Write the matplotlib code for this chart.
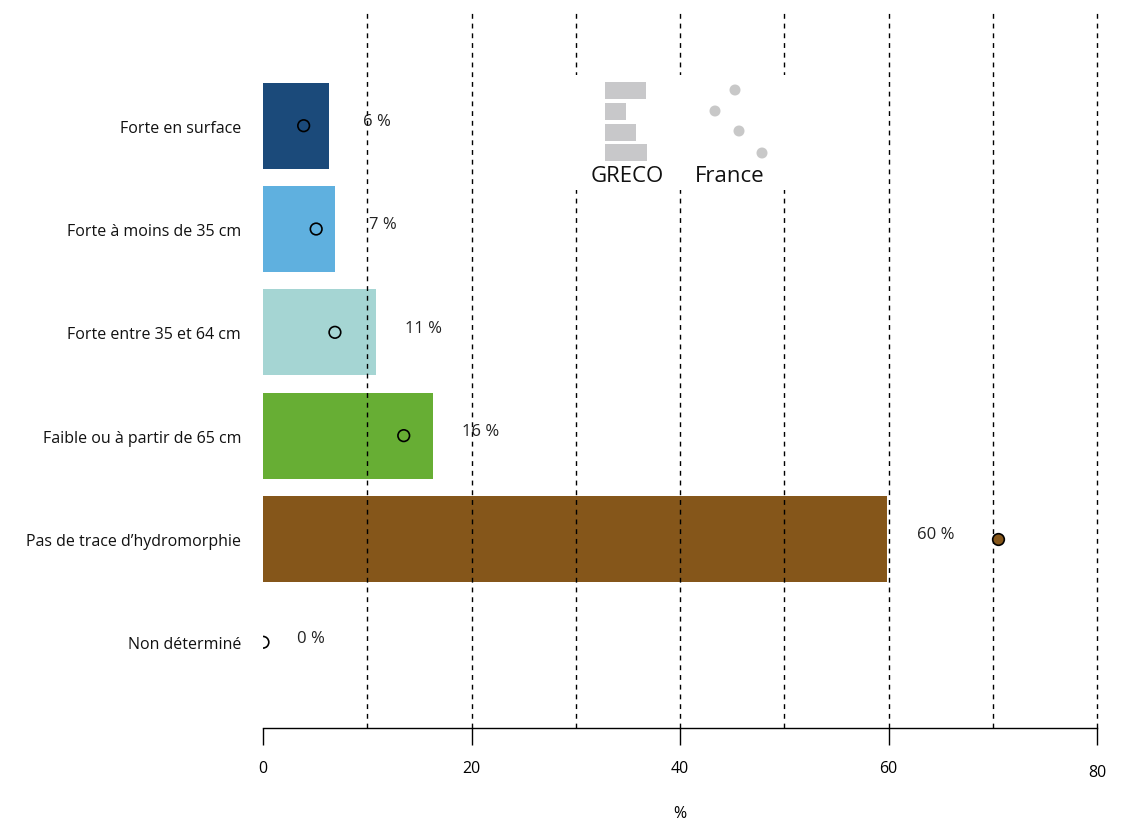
import matplotlib
matplotlib.use("Agg")
import matplotlib.pyplot as plt
from matplotlib.patches import Rectangle, Circle

plt.rcParams['font.family'] = ['Open Sans', 'DejaVu Sans']

categories = ["Forte en surface", "Forte à moins de 35 cm", "Forte entre 35 et 64 cm",
              "Faible ou à partir de 65 cm", "Pas de trace d\u2019hydromorphie", "Non déterminé"]
greco_values = [6.3, 6.9, 10.8, 16.3, 59.9, 0.0]
france_values = [3.9, 5.1, 6.9, 13.5, 70.5, 0.0]
value_labels = ["6 %", "7 %", "11 %", "16 %", "60 %", "0 %"]
colors = ["#1b4a7a", "#5fb0df", "#a5d5d3", "#67ae34", "#85561a", "#ffffff"]
france_filled = [False, False, False, False, True, False]
xticks = [0, 20, 40, 60, 80]
gridlines = [10, 20, 30, 40, 50, 60, 70, 80]
legend_bar_widths = [41, 21, 31, 42]
legend_dot_offsets = [20, 0, 24, 47]

W, H = 1124, 825
fig = plt.figure(figsize=(W / 100, H / 100), dpi=100)
ax = fig.add_axes([263 / W, 1 - 728 / H, (1097 - 263) / W, (728 - 10) / H])

ypos = list(range(len(categories)))
ax.barh(ypos, greco_values, height=0.83, color=colors, zorder=2)

for g in gridlines:
    ax.axvline(g, color='black', linestyle=(0, (3.5, 3.5)), linewidth=1.0, zorder=3, clip_on=False)

for y, v, f, c in zip(ypos, france_values, france_filled, colors):
    ax.scatter([v], [y], s=70, facecolor=(c if f else 'none'), edgecolor='black',
               linewidth=1.2, zorder=4, clip_on=True)

for y, v, lab in zip(ypos, greco_values, value_labels):
    ax.text(v + 4.6, y - 0.035, lab, ha='center', va='center', fontsize=12, color='#222222', zorder=5)

ax.set_xlim(0, 80)
ax.set_ylim(5.83, -1.12)
ax.set_yticks([])
for s in ['top', 'right', 'left']:
    ax.spines[s].set_visible(False)
ax.spines['bottom'].set_linewidth(1.0)
ax.spines['bottom'].set_zorder(6)
ax.set_xticks(xticks)
ax.set_xticklabels([str(t) for t in xticks], fontsize=11.5)
ax.tick_params(axis='x', length=12, width=1.0, pad=12)
ax.get_xticklabels()[-1].set_y(-0.005)
ax.set_xlabel('%', fontsize=11.5, labelpad=18)

for y, cat in zip(ypos, categories):
    ax.text(-2.1, y + 0.03, cat, ha='right', va='center', fontsize=11.5, color='#111111')

# legend inset
lx0, lx1, ly0, ly1 = 570, 790, 75, 190
lax = fig.add_axes([lx0 / W, 1 - ly1 / H, (lx1 - lx0) / W, (ly1 - ly0) / H])
lax.set_zorder(10)
lax.set_xlim(lx0, lx1)
lax.set_ylim(ly1, ly0)
lax.axis('off')
lax.add_patch(Rectangle((lx0, ly0), lx1 - lx0, ly1 - ly0, facecolor='white', edgecolor='none'))
bar_tops = [82, 103, 124, 144]
for t, w in zip(bar_tops, legend_bar_widths):
    lax.add_patch(Rectangle((605, t), w, 16.5, facecolor='#c8c8ca', edgecolor='none'))
dot_ys = [90, 111, 131, 153]
for yy, off in zip(dot_ys, legend_dot_offsets):
    lax.add_patch(Circle((715 + off, yy), 5.5, facecolor='#c8c8c8', edgecolor='none'))
lax.text(627, 176, 'GRECO', ha='center', va='center', fontsize=16, color='#111111')
lax.text(730, 176, 'France', ha='center', va='center', fontsize=16, color='#111111')

fig.savefig('out.png', dpi=100)
